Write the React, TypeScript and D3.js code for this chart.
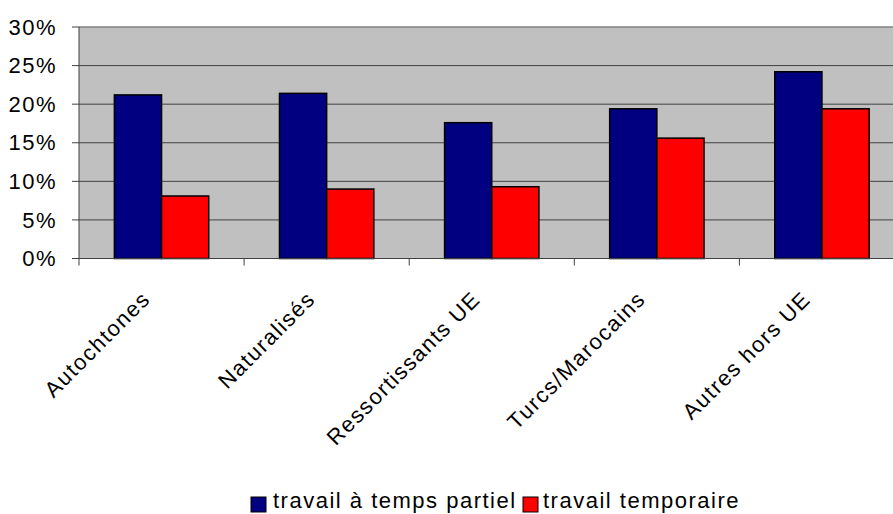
import React from "react";
import * as d3 from "d3";

const categories = ["Autochtones", "Naturalisés", "Ressortissants UE", "Turcs/Marocains", "Autres hors UE"];
const seriesNames = ["travail à temps partiel", "travail temporaire"];
const partTime = [21.2, 21.4, 17.6, 19.4, 24.2];
const temporary = [8.1, 9.0, 9.3, 15.6, 19.4];
const yTicks = [0, 5, 10, 15, 20, 25, 30];
const colors = ["#000080", "#FF0000"];

const W = 893;
const H = 514;
const left = 79;
const right = 904.5;
const top = 27;
const bottom = 258.5;
const font = "'Liberation Sans', Arial, sans-serif";
const fs = 22;
const ls = 1.5;

export default function App() {
  const x = d3.scaleBand<string>().domain(categories).range([left, right]).paddingInner(0).paddingOuter(0);
  const y = d3.scaleLinear().domain([0, 30]).range([bottom, top]);
  const values = [partTime, temporary];
  const bw = x.bandwidth();
  const barW = bw / 3.5;
  const x1 = d3.scaleBand<number>().domain([0, 1]).range([0, barW * 2]);

  return (
    <svg width={W} height={H} style={{ position: "absolute", left: 0, top: 0, background: "#fff" }} fontFamily={font}>
      <rect x={left} y={top} width={right - left} height={bottom - top} fill="#C0C0C0" />
      {yTicks.map((t) => (
        <g key={t}>
          {t > 0 && t < 30 && <line x1={left} x2={right} y1={y(t)} y2={y(t)} stroke="#404040" strokeWidth={1} />}
          <line x1={left - 7} x2={left} y1={y(t)} y2={y(t)} stroke="#404040" strokeWidth={1} />
          <text x={57} y={y(t)} dy="0.35em" textAnchor="end" fontSize={fs} letterSpacing={ls} fill="#000">
            {t}%
          </text>
        </g>
      ))}
      <line x1={left} x2={right} y1={top} y2={top} stroke="#808080" strokeWidth={1.5} />
      {categories.map((c, i) => (
        <g key={c}>
          {values.map((v, s) => (
            <rect
              key={s}
              x={(x(c) as number) + (bw - barW * 2) / 2 + (x1(s) as number)}
              y={y(v[i])}
              width={barW}
              height={bottom - y(v[i])}
              fill={colors[s]}
              stroke="#000"
              strokeWidth={1.5}
            />
          ))}
        </g>
      ))}
      <line x1={left} x2={left} y1={top} y2={bottom + 7} stroke="#404040" strokeWidth={1} />
      <line x1={left} x2={right} y1={bottom} y2={bottom} stroke="#404040" strokeWidth={1} />
      {categories.map((c, i) =>
        i > 0 ? (
          <line key={c} x1={x(c) as number} x2={x(c) as number} y1={bottom} y2={bottom + 7} stroke="#404040" strokeWidth={1} />
        ) : null
      )}
      {categories.map((c) => {
        const cx = (x(c) as number) + bw / 2 - 10;
        const cy = bottom + 42;
        return (
          <text key={c} x={cx} y={cy} textAnchor="end" fontSize={fs} letterSpacing={ls} fill="#000" transform={`rotate(-45, ${cx}, ${cy})`}>
            {c}
          </text>
        );
      })}
      <g>
        <rect x={251} y={497} width={15} height={15} fill={colors[0]} stroke="#000" strokeWidth={1} />
        <text x={273} y={508} fontSize={fs} letterSpacing={ls} fill="#000">{seriesNames[0]}</text>
        <rect x={523} y={497} width={15} height={15} fill={colors[1]} stroke="#000" strokeWidth={1} />
        <text x={543} y={508} fontSize={fs} letterSpacing={ls} fill="#000">{seriesNames[1]}</text>
      </g>
    </svg>
  );
}
